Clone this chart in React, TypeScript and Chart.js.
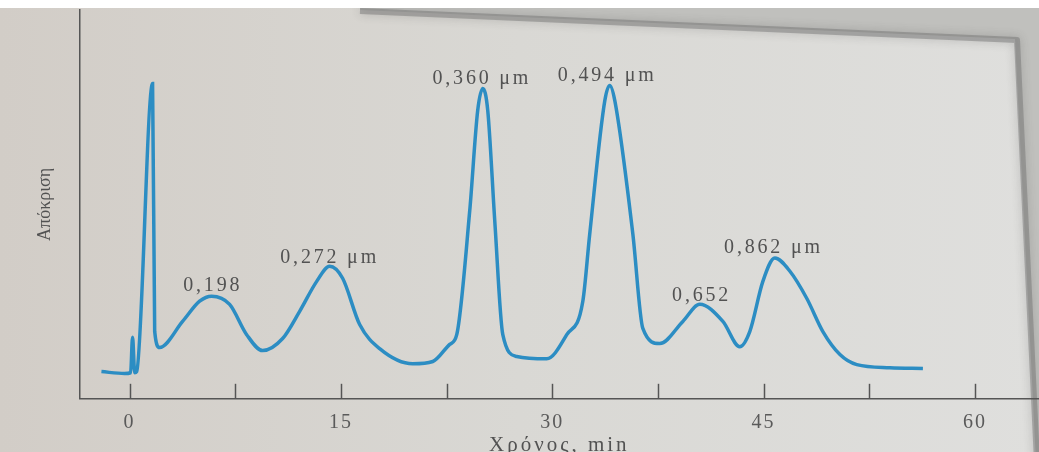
import { useEffect, useRef } from 'react';
import { Chart, registerables } from 'chart.js';

Chart.register(...registerables);

// Retention time (min) and detector response (arbitrary units)
const timeMin = [
  -2.0, -0.36, 0.07, 0.21, 0.36, 0.5, 1.63, 1.78, 2.13, 3.76, 4.97, 5.82, 7.1, 8.31, 9.44,
  10.86, 12.07, 13.28, 14.2, 15.12, 16.33, 17.75, 20.1, 21.52, 22.72, 23.22, 24.14, 24.71,
  25.07, 25.42, 25.92, 26.49, 27.48, 29.61, 31.03, 32.17, 32.66, 33.73, 34.08, 34.44, 35.72,
  36.43, 37.63, 39.27, 40.47, 42.11, 43.31, 44.02, 44.95, 45.8, 46.87, 48.07, 49.21, 50.42,
  51.62, 53.97, 56.31,
];
const response = [
  7.0, 6.5, 6.7, 15.8, 6.7, 7.0, 81.1, 17.3, 13.2, 19.9, 25.1, 26.4, 24.3, 16.5, 12.4,
  15.5, 22.5, 30.2, 34.1, 31.0, 19.1, 12.9, 9.0, 9.6, 14.0, 16.5, 48.3, 74.2,
  79.8, 74.2, 45.7, 16.5, 10.9, 10.3, 16.5, 25.1, 42.4, 76.7, 80.6, 76.7, 42.4,
  18.1, 14.2, 19.9, 24.3, 19.9, 13.4, 17.3, 30.2, 36.2, 32.8, 25.8, 17.3, 11.4,
  8.8, 8.0, 7.8,
];

const peakLabels = ['0,198', '0,272 μm', '0,360 μm', '0,494 μm', '0,652', '0,862 μm'];
const peakLabelX = [5.9, 14.2, 25.0, 33.9, 40.6, 45.7];
const peakLabelY = [29.2, 36.4, 82.4, 83.2, 26.4, 38.8];

const tickValues = [0, 7.5, 15, 22.5, 30, 37.5, 45, 52.5, 60];
const tickLabels = ['0', '', '15', '', '30', '', '45', '', '60'];

const xTitle = 'Χρόνος, min';
const yTitle = 'Απόκριση';

const TEXT = '#525252';
const SERIF = "'Liberation Serif', 'DejaVu Serif', serif";

function withSpacing(scale: any, method: string, spacing: string) {
  const key = '__patched_' + method;
  if (!scale || scale[key]) return;
  const orig = scale[method].bind(scale);
  scale[method] = (...args: any[]) => {
    const c = scale.ctx;
    const prev = c.letterSpacing;
    try { c.letterSpacing = spacing; } catch (e) {}
    orig(...args);
    try { c.letterSpacing = prev || '0px'; } catch (e) {}
  };
  scale[key] = true;
}

const decorPlugin = {
  id: 'decor',
  beforeDraw(chart: any) {
    const { ctx, width, height } = chart;
    withSpacing(chart.scales.x, 'drawLabels', '2px');
    withSpacing(chart.scales.x, 'drawTitle', '3px');
    ctx.save();
    const g = ctx.createLinearGradient(0, 0, width, 0);
    g.addColorStop(0, '#d2cdc7');
    g.addColorStop(0.5, '#d9d8d4');
    g.addColorStop(1, '#dfdfdd');
    ctx.fillStyle = g;
    ctx.fillRect(0, 0, width, height);
    // area beyond the page (top right and right edge)
    ctx.fillStyle = '#c0c0bd';
    ctx.beginPath();
    ctx.moveTo(360, 8);
    ctx.lineTo(width, 8);
    ctx.lineTo(width, height);
    ctx.lineTo(1036, height);
    ctx.lineTo(1015, 39);
    ctx.lineTo(360, 10);
    ctx.closePath();
    ctx.fill();
    // soft page edge shadow
    ctx.strokeStyle = 'rgba(110,110,110,0.45)';
    ctx.lineWidth = 6;
    ctx.lineJoin = 'round';
    ctx.shadowColor = 'rgba(70,70,70,0.55)';
    ctx.shadowBlur = 10;
    ctx.beginPath();
    ctx.moveTo(360, 11);
    ctx.lineTo(1017, 40);
    ctx.lineTo(1037, height);
    ctx.stroke();
    ctx.shadowBlur = 0;
    // white top strip
    ctx.fillStyle = '#ffffff';
    ctx.fillRect(0, 0, width, 8);
    ctx.restore();
  },
  afterDraw(chart: any) {
    const { ctx } = chart;
    const xs = chart.scales.x;
    const ys = chart.scales.y;
    ctx.save();
    // upward tick marks
    ctx.strokeStyle = '#555';
    ctx.lineWidth = 1.5;
    const base = chart.chartArea.bottom;
    tickValues.forEach((v) => {
      const px = Math.round(xs.getPixelForValue(v)) + 0.5;
      ctx.beginPath();
      ctx.moveTo(px, base);
      ctx.lineTo(px, base - 15);
      ctx.stroke();
    });
    // peak annotations
    ctx.fillStyle = TEXT;
    ctx.font = `20px ${SERIF}`;
    ctx.textAlign = 'center';
    ctx.textBaseline = 'middle';
    try { (ctx as any).letterSpacing = '2.8px'; } catch (e) {}
    peakLabels.forEach((t, i) => {
      ctx.fillText(t, xs.getPixelForValue(peakLabelX[i]), ys.getPixelForValue(peakLabelY[i]));
    });
    try { (ctx as any).letterSpacing = '0px'; } catch (e) {}
    ctx.restore();
  },
};

export default function App() {
  const ref = useRef<HTMLCanvasElement>(null);
  useEffect(() => {
    if (!ref.current) return;
    const chart = new Chart(ref.current, {
      type: 'line',
      data: {
        datasets: [
          {
            data: timeMin.map((t, i) => ({ x: t, y: response[i] })),
            borderColor: '#2c8dc3',
            borderWidth: 3.5,
            pointRadius: 0,
            cubicInterpolationMode: 'monotone',
            fill: false,
          },
        ],
      },
      options: {
        animation: false,
        responsive: false,
        maintainAspectRatio: false,
        layout: { padding: { top: 10, right: 0, left: 30, bottom: 0 } },
        plugins: { legend: { display: false }, tooltip: { enabled: false } },
        scales: {
          x: {
            type: 'linear',
            min: -3.55,
            max: 64.55,
            afterBuildTicks: (scale: any) => {
              scale.ticks = tickValues.map((v) => ({ value: v }));
            },
            grid: { display: false, drawTicks: false },
            border: { display: true, color: '#555', width: 1.5 },
            ticks: {
              padding: 12,
              color: '#5a5a5a',
              font: { family: SERIF, size: 20 },
              maxRotation: 0,
              autoSkip: false,
              callback: (v: any) => {
                const i = tickValues.indexOf(Number(v));
                return i >= 0 ? tickLabels[i] : '';
              },
            },
            title: {
              display: true,
              text: xTitle,
              color: TEXT,
              font: { family: SERIF, size: 21 },
              padding: { top: -14, bottom: 4 },
            },
          },
          y: {
            min: 0,
            max: 100,
            grid: { display: false, drawTicks: false },
            border: { display: true, color: '#555', width: 1.5 },
            ticks: { display: false },
            title: {
              display: true,
              text: yTitle,
              color: TEXT,
              font: { family: SERIF, size: 18 },
              padding: { top: 4, bottom: 24 },
            },
          },
        },
      },
      plugins: [decorPlugin],
    } as any);
    return () => chart.destroy();
  }, []);
  return (
    <div style={{ position: 'absolute', left: 0, top: 0, width: 1039, height: 462 }}>
      <canvas ref={ref} width={1039} height={462} style={{ width: 1039, height: 462 }} />
    </div>
  );
}
